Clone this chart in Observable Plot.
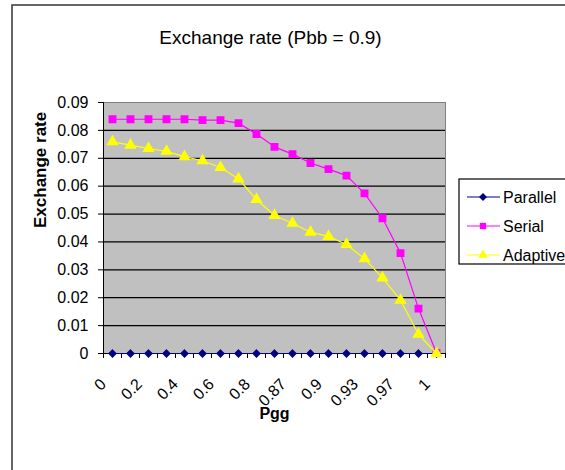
<!DOCTYPE html>
<html><head><meta charset="utf-8">
<script src="https://cdn.jsdelivr.net/npm/d3@7"></script>
<script src="https://cdn.jsdelivr.net/npm/@observablehq/plot@0.6"></script>
<style>body{margin:0;background:#fff;font-family:"Liberation Sans",Arial,sans-serif}</style>
</head><body><div id="chart"></div>
<script>
// Pgg categories (every other one is labelled on the axis)
const pgg = ["0","0.1","0.2","0.3","0.4","0.5","0.6","0.7","0.8","0.85","0.87","0.88","0.9","0.92","0.93","0.95","0.97","0.99","1"];
const parallel = [0,0,0,0,0,0,0,0,0,0,0,0,0,0,0,0,0,0,0];
const serial = [0.0840,0.0840,0.0840,0.0840,0.0840,0.0837,0.0837,0.0826,0.0787,0.0741,0.0715,0.0683,0.0661,0.0638,0.0574,0.0485,0.0360,0.0161,0.0002];
const adaptive = [0.0759,0.0747,0.0735,0.0725,0.0706,0.0691,0.0667,0.0626,0.0552,0.0495,0.0467,0.0435,0.0420,0.0391,0.0340,0.0271,0.0191,0.0069,0.0];
const seriesNames = ["Parallel","Serial","Adaptive"];
const seriesColors = ["#000080","#FF00FF","#FFFF00"];
const seriesSymbols = ["diamond2","square","triangle"];
const yTicks = [0,0.01,0.02,0.03,0.04,0.05,0.06,0.07,0.08,0.09];
const gridValues = [0.01,0.02,0.03,0.04,0.05,0.06,0.07,0.08];
const title = "Exchange rate (Pbb = 0.9)";
const xTitle = "Pgg";
const yTitle = "Exchange rate";

const valuesBySeries = [parallel, serial, adaptive];
const rows = [];
seriesNames.forEach((s, k) => valuesBySeries[k].forEach((v, i) => rows.push({i, pgg: pgg[i], series: s, value: v})));
const boundaries = d3.range(pgg.length + 1);
const labelPos = pgg.map((p, i) => i).filter(i => i % 2 === 0).map(i => i + 0.5);
const colorOf = Object.fromEntries(seriesNames.map((s, k) => [s, seriesColors[k]]));
const symOf = Object.fromEntries(seriesNames.map((s, k) => [s, seriesSymbols[k]]));

const marks = [
  Plot.frame({fill: "#c0c0c0", stroke: "#808080"}),
  Plot.ruleY(gridValues, {stroke: "black", strokeWidth: 1.2}),
  Plot.axisY({ticks: yTicks, tickSize: 5, tickPadding: 10, tickFormat: d => d === 0 ? "0" : d.toFixed(2), label: null, fontSize: 16, stroke: "black", strokeOpacity: 1}),
  Plot.axisX({ticks: boundaries, tickSize: 5, tickFormat: () => "", label: null, stroke: "black", strokeOpacity: 1}),
  Plot.text(labelPos, {x: d => d, text: d => pgg[Math.floor(d)], frameAnchor: "bottom", rotate: -45, textAnchor: "end", lineAnchor: "middle", dx: -9, dy: 28, fontSize: 16}),
  Plot.ruleX([0], {stroke: "black"}),
  Plot.ruleY([0], {stroke: "black"}),
];
seriesNames.forEach(s => {
  const d = rows.filter(r => r.series === s);
  marks.push(Plot.line(d, {x: r => r.i + 0.5, y: "value", stroke: colorOf[s], strokeWidth: 1.2}));
  marks.push(Plot.dot(d, {x: r => r.i + 0.5, y: "value", symbol: symOf[s], fill: colorOf[s], stroke: colorOf[s], r: s === "Parallel" ? 3 : 3.6}));
});
marks.push(
  Plot.text([title], {frameAnchor: "top", lineAnchor: "middle", dy: -65, dx: -4, fontSize: 19}),
  Plot.text([xTitle], {frameAnchor: "bottom", lineAnchor: "middle", dy: 60, fontSize: 16, fontWeight: "bold"}),
  Plot.text([yTitle], {frameAnchor: "left", rotate: -90, lineAnchor: "middle", dx: -63, fontSize: 17, fontWeight: "bold"})
);

const chart = Plot.plot({
  width: 565, height: 470,
  marginLeft: 103, marginRight: 120, marginTop: 102, marginBottom: 117,
  style: {fontFamily: "'Liberation Sans', Arial, sans-serif", fontSize: "16px", background: "white", color: "black"},
  x: {type: "linear", domain: [0, pgg.length]},
  y: {domain: [0, 0.09]},
  marks
});
document.getElementById("chart").append(chart);

// outer chart border and legend
const svg = d3.select(chart);
svg.append("rect").attr("x", 12).attr("y", 5).attr("width", 620).attr("height", 520)
  .attr("fill", "none").attr("stroke", "#404040").attr("stroke-width", 1.6);
const lg = svg.append("g");
lg.append("rect").attr("x", 459).attr("y", 179).attr("width", 130).attr("height", 85)
  .attr("fill", "white").attr("stroke", "black").attr("stroke-width", 1.2);
seriesNames.forEach((s, k) => {
  const y = 197 + k * 29;
  lg.append("line").attr("x1", 467).attr("x2", 500).attr("y1", y).attr("y2", y).attr("stroke", colorOf[s]).attr("stroke-width", 1.2);
  const sym = {diamond2: d3.symbolDiamond2, square: d3.symbolSquare, triangle: d3.symbolTriangle}[symOf[s]];
  lg.append("path").attr("d", d3.symbol(sym, 40)()).attr("transform", `translate(483,${y})`).attr("fill", colorOf[s]);
  lg.append("text").attr("x", 503).attr("y", y).attr("dy", "0.35em").attr("font-size", 16)
    .attr("text-anchor", "start").attr("fill", "black").text(s);
});
</script></body></html>
